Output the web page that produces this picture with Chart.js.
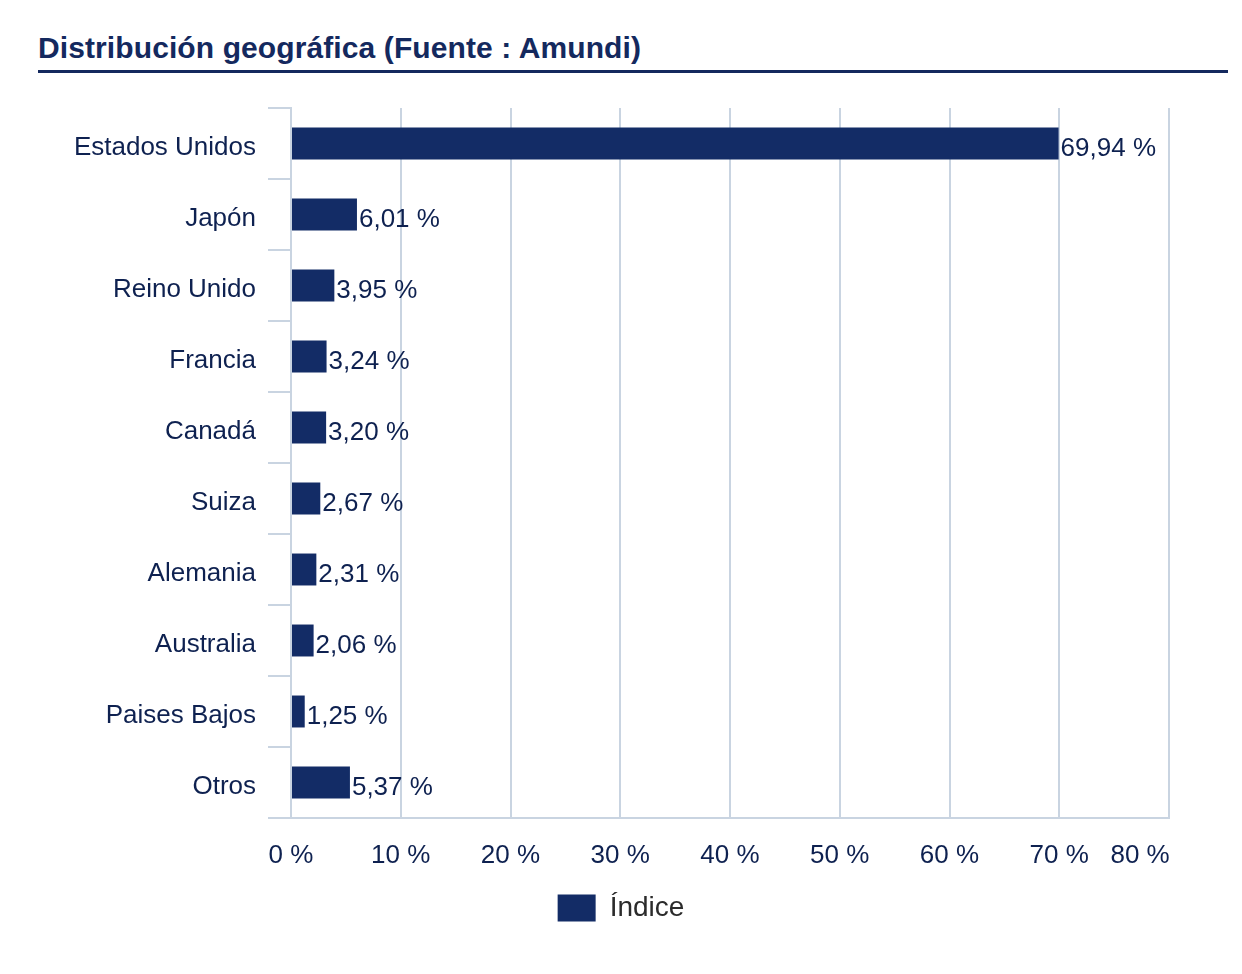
<!DOCTYPE html>
<html lang="es">
<head>
    <meta charset="UTF-8">
    <title>Distribución geográfica</title>
    <script src="https://cdn.jsdelivr.net/npm/chart.js"></script>
    <style>
        body { margin: 0; background: #fff; font-family: "Liberation Sans", Arial, sans-serif; }
        #title {
            position: absolute; left: 38px; top: 31px;
            font-size: 30px; font-weight: bold; color: #14295e;
            white-space: nowrap; letter-spacing: 0.1px;
        }
        #rule {
            position: absolute; left: 38px; top: 70px; width: 1190px; height: 3px;
            background: #14295e;
        }
        #wrap { position: absolute; left: 0; top: 0; width: 1242px; height: 974px; }
    </style>
</head>
<body>
    <div id="title">Distribución geográfica (Fuente : Amundi)</div>
    <div id="rule"></div>
    <div id="wrap"><canvas id="myChart"></canvas></div>
    <script>
        const paises = ['Estados Unidos', 'Japón', 'Reino Unido', 'Francia', 'Canadá', 'Suiza', 'Alemania', 'Australia', 'Paises Bajos', 'Otros'];
        const indice = [69.94, 6.01, 3.95, 3.24, 3.20, 2.67, 2.31, 2.06, 1.25, 5.37];
        const ticksX = [0, 10, 20, 30, 40, 50, 60, 70, 80];

        const navy = '#132c66';
        const texto = '#0e2150';
        const rejilla = '#c9d4e1';
        const fuente = '"Liberation Sans", Arial, sans-serif';

        function fmt(v) {
            return v.toFixed(2).replace('.', ',') + ' %';
        }

        // etiquetas al final de cada barra
        const etiquetas = {
            id: 'etiquetas',
            afterDatasetsDraw(chart) {
                const ctx = chart.ctx;
                const meta = chart.getDatasetMeta(0);
                ctx.save();
                ctx.font = '26px ' + fuente;
                ctx.fillStyle = texto;
                ctx.textAlign = 'left';
                ctx.textBaseline = 'middle';
                meta.data.forEach((bar, i) => {
                    ctx.fillText(fmt(indice[i]), bar.x + 2, bar.y + 5);
                });
                ctx.restore();
            }
        };

        const ctx = document.getElementById('myChart').getContext('2d');
        const myChart = new Chart(ctx, {
            type: 'bar',
            data: {
                labels: paises,
                datasets: [{
                    label: 'Índice',
                    data: indice,
                    backgroundColor: navy,
                    borderWidth: 0,
                    barPercentage: 0.45,
                    categoryPercentage: 1
                }]
            },
            options: {
                indexAxis: 'y',
                responsive: true,
                maintainAspectRatio: false,
                animation: false,
                layout: { padding: { top: 108, right: 0, bottom: 42 } },
                plugins: {
                    tooltip: { enabled: false },
                    legend: {
                        position: 'bottom',
                        labels: {
                            boxWidth: 38,
                            boxHeight: 27,
                            color: '#2b2b2b',
                            font: { size: 28, family: fuente }
                        }
                    }
                },
                scales: {
                    x: {
                        min: 0,
                        max: 80,
                        afterBuildTicks: (scale) => {
                            scale.ticks = ticksX.map(v => ({ value: v }));
                        },
                        afterFit: (scale) => {
                            scale.height = 66;
                            scale.paddingLeft = 0;
                            scale.paddingRight = 73;
                        },
                        grid: {
                            color: rejilla,
                            lineWidth: 2,
                            drawTicks: false
                        },
                        border: { color: rejilla, width: 2 },
                        ticks: {
                            padding: 22,
                            autoSkip: false,
                            color: texto,
                            maxRotation: 0,
                            font: { size: 26, family: fuente },
                            callback: (v) => v === 80 ? v + ' %        ' : v + ' %'
                        }
                    },
                    y: {
                        afterFit: (scale) => { scale.width = 291; },
                        grid: {
                            color: rejilla,
                            lineWidth: 2,
                            drawOnChartArea: false,
                            tickLength: 23
                        },
                        border: { color: rejilla, width: 2 },
                        ticks: {
                            padding: 12,
                            labelOffset: 4,
                            color: texto,
                            font: { size: 26, family: fuente }
                        }
                    }
                }
            },
            plugins: [etiquetas]
        });
    </script>
</body>
</html>
